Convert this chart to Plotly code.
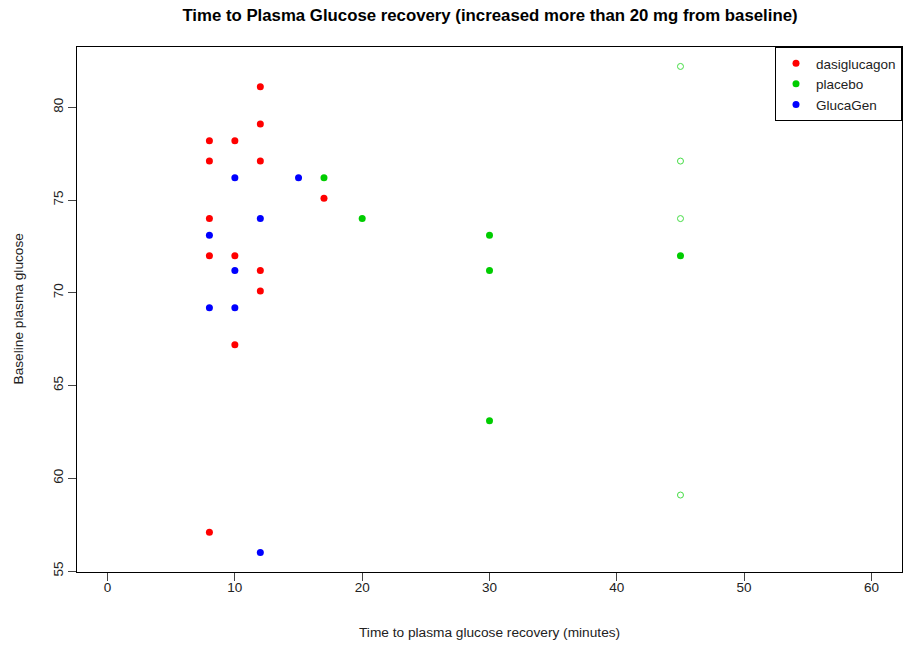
import plotly.graph_objects as go

# values (minutes, baseline glucose)
dasi_x = [8, 8, 8, 8, 8, 10, 10, 10, 12, 12, 12, 12, 12, 17]
dasi_y = [78.2, 77.1, 74.0, 72.0, 57.1, 78.2, 72.0, 67.2, 81.1, 79.1, 77.1, 71.2, 70.1, 75.1]

placebo_x = [17, 20, 30, 30, 30, 45]
placebo_y = [76.2, 74.0, 73.1, 71.2, 63.1, 72.0]

# placebo subjects not recovered (open circles)
placebo_open_x = [45, 45, 45, 45]
placebo_open_y = [82.2, 77.1, 74.0, 59.1]

glucagen_x = [10, 15, 8, 12, 10, 8, 10, 12]
glucagen_y = [76.2, 76.2, 73.1, 74.0, 71.2, 69.2, 69.2, 56.0]

x_ticks = [0, 10, 20, 30, 40, 50, 60]
y_ticks = [55, 60, 65, 70, 75, 80]

RED = "#FF0000"
GREEN = "#00CD00"
BLUE = "#0000FF"
FONT = "Liberation Sans, Arial, sans-serif"

fig = go.Figure()

fig.add_trace(go.Scatter(x=dasi_x, y=dasi_y, mode="markers", name="dasiglucagon",
                         marker=dict(color=RED, size=7)))
fig.add_trace(go.Scatter(x=placebo_x, y=placebo_y, mode="markers", name="placebo",
                         marker=dict(color=GREEN, size=7)))
fig.add_trace(go.Scatter(x=glucagen_x, y=glucagen_y, mode="markers", name="GlucaGen",
                         marker=dict(color=BLUE, size=7)))
fig.add_trace(go.Scatter(x=placebo_open_x, y=placebo_open_y, mode="markers",
                         showlegend=False,
                         marker=dict(symbol="circle-open", color="#44DD44", size=6,
                                     line=dict(width=1))))

axis_common = dict(showline=True, mirror=True, linecolor="black", linewidth=1,
                   ticks="outside", ticklen=8, tickcolor="#444", showgrid=False,
                   zeroline=False, tickfont=dict(family=FONT, size=13.5, color="#222"))

fig.update_layout(
    width=903, height=646,
    margin=dict(l=77, r=1, t=47, b=74),
    paper_bgcolor="white", plot_bgcolor="white",
    font=dict(family=FONT, color="black"),
    title=dict(text="<b>Time to Plasma Glucose recovery (increased more than 20 mg from baseline)</b>",
               x=490 / 903, xanchor="center", y=1 - 15 / 646, yanchor="middle",
               yref="container", font=dict(size=16.8, family=FONT, color="black")),
    xaxis=dict(range=[-2.4, 62.4], tickvals=x_ticks, ticklabelstandoff=-5, **axis_common),
    yaxis=dict(range=[54.952, 83.248], tickvals=y_ticks, tickangle=-90, **axis_common),
    legend=dict(x=1, y=1, xanchor="right", yanchor="top", bordercolor="black",
                borderwidth=1, bgcolor="white", itemwidth=30,
                font=dict(family=FONT, size=13.5, color="#222"), tracegroupgap=0),
    annotations=[
        dict(text="Time to plasma glucose recovery (minutes)", xref="paper", yref="paper",
             x=0.5, y=-(632 - 572) / 525, xanchor="center", yanchor="middle",
             showarrow=False, font=dict(family=FONT, size=13.7, color="#222")),
        dict(text="Baseline plasma glucose", xref="paper", yref="paper",
             x=-(77 - 18) / 825, y=0.5, xanchor="center", yanchor="middle", textangle=-90,
             showarrow=False, font=dict(family=FONT, size=13.7, color="#222")),
    ],
)

# drop the browser's default body margin so the figure sits at the page corner
fig.write_html("out.html", config={"displayModeBar": False},
               post_script="document.body.style.margin='0px';")
